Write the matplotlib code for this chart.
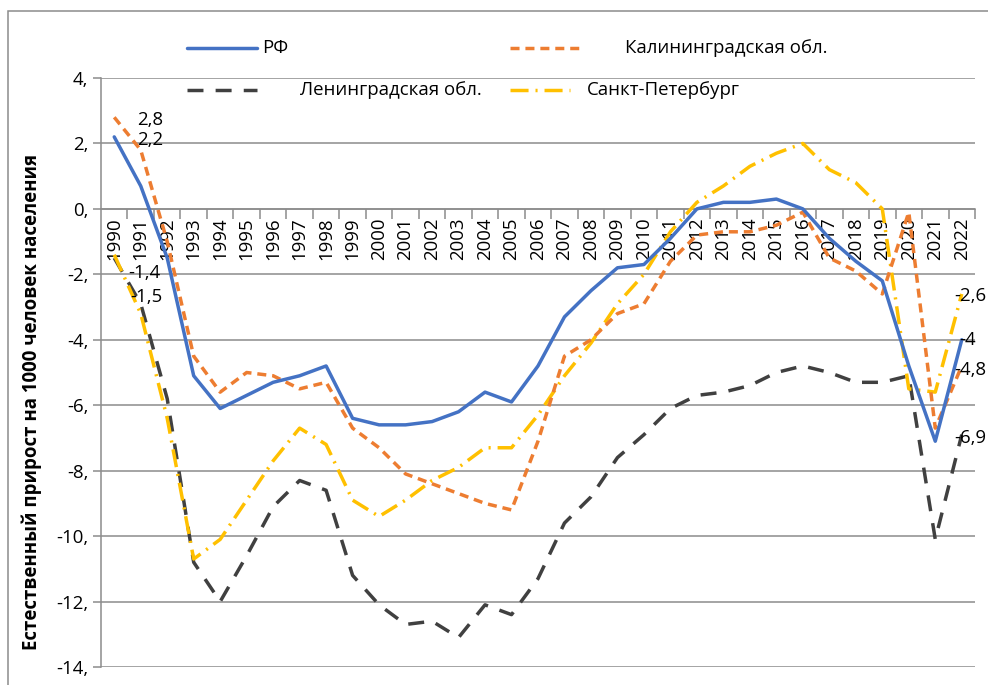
import matplotlib
matplotlib.use("Agg")
import matplotlib.pyplot as plt
from matplotlib.lines import Line2D
from matplotlib.patches import Rectangle
from matplotlib.ticker import FixedLocator, FuncFormatter

plt.rcParams['font.family'] = ['Open Sans', 'DejaVu Sans']

years = [str(y) for y in range(1990, 2023)]

rf = [2.2, 0.7, -1.5, -5.1, -6.1, -5.7, -5.3, -5.1, -4.8, -6.4, -6.6, -6.6, -6.5,
      -6.2, -5.6, -5.9, -4.8, -3.3, -2.5, -1.8, -1.7, -0.9, 0.0, 0.2, 0.2, 0.3,
      0.0, -0.9, -1.6, -2.2, -4.8, -7.1, -4.0]
kaliningrad = [2.8, 1.8, -1.0, -4.5, -5.6, -5.0, -5.1, -5.5, -5.3, -6.7, -7.3, -8.1,
               -8.4, -8.7, -9.0, -9.2, -7.1, -4.5, -4.0, -3.2, -2.9, -1.6, -0.8,
               -0.7, -0.7, -0.5, -0.1, -1.5, -1.9, -2.6, -0.1, -6.7, -4.8]
leningrad = [-1.5, -2.9, -5.8, -10.8, -12.0, -10.6, -9.1, -8.3, -8.6, -11.2, -12.1,
             -12.7, -12.6, -13.1, -12.1, -12.4, -11.3, -9.6, -8.8, -7.6, -6.9, -6.1,
             -5.7, -5.6, -5.4, -5.0, -4.8, -5.0, -5.3, -5.3, -5.1, -10.1, -6.9]
spb = [-1.4, -3.2, -6.4, -10.7, -10.1, -8.9, -7.7, -6.7, -7.2, -8.9, -9.4, -8.9,
       -8.3, -7.9, -7.3, -7.3, -6.3, -5.1, -4.1, -2.9, -2.0, -0.7, 0.2, 0.7, 1.3,
       1.7, 2.0, 1.2, 0.8, 0.0, -5.5, -5.6, -2.6]

series_names = ['РФ', 'Калининградская обл.', 'Ленинградская обл.', 'Санкт-Петербург']
ylabel = 'Естественный прирост на 1000 человек населения'
yticks = [4, 2, 0, -2, -4, -6, -8, -10, -12, -14]

W, H = 988, 685
fig = plt.figure(figsize=(W / 100, H / 100), dpi=100)
ax = fig.add_axes([101 / W, 1 - 667 / H, (975 - 101) / W, (667 - 78) / H])

x = list(range(len(years)))
FS = 13.4

LW = 2.5
styles = {
    'rf': dict(color='#4472C4', lw=LW, ls='-', solid_capstyle='round'),
    'kal': dict(color='#ED7D31', lw=LW, ls=(0, (2.6, 1.7)), dash_capstyle='butt'),
    'len': dict(color='#404040', lw=LW, ls=(0, (4.6, 3.5)), dash_capstyle='butt'),
    'spb': dict(color='#FFC000', lw=LW, ls=(0, (5.2, 2.0, 0.6, 2.0)), dash_capstyle='butt'),
}

ax.plot(x, rf, **styles['rf'], zorder=5)
ax.plot(x, kaliningrad, **styles['kal'], zorder=4)
ax.plot(x, leningrad, **styles['len'], zorder=3)
ax.plot(x, spb, **styles['spb'], zorder=3)

ax.set_xlim(-0.5, len(years) - 0.5)
ax.set_ylim(-14, 4)

grid_c = '#8C8C8C'
ax.set_yticks(yticks)
ax.yaxis.set_major_formatter(FuncFormatter(lambda v, p: f"{int(round(v))},"))
ax.yaxis.grid(True, color=grid_c, lw=1.1)
ax.set_axisbelow(True)
ax.tick_params(axis='y', length=6, width=1.1, color=grid_c, pad=3, labelsize=FS)

for s in ['top', 'right']:
    ax.spines[s].set_visible(False)
ax.spines['left'].set_color(grid_c)
ax.spines['left'].set_linewidth(1.1)
ax.spines['bottom'].set_position(('data', 0))
ax.spines['bottom'].set_color(grid_c)
ax.spines['bottom'].set_linewidth(1.1)

ax.set_xticks(x)
ax.set_xticklabels(years, rotation=90, fontsize=FS, va='top')
ax.xaxis.set_minor_locator(FixedLocator([i + 0.5 for i in x[:-1]] + [len(years) - 0.5]))
ax.tick_params(axis='x', which='major', length=0, pad=6)
ax.tick_params(axis='x', which='minor', length=7, width=1.1, color=grid_c)

ax.set_ylabel(ylabel, fontsize=FS, fontweight='bold')
ax.yaxis.set_label_coords(-0.067, 0.45)

# data labels
def lab(i, val, dx, dy):
    txt = f"{val:g}".replace('.', ',')
    ax.annotate(txt, xy=(i, val), xytext=(dx, dy), textcoords='offset pixels',
                ha='left', va='center', fontsize=FS, zorder=6)

lab(0, kaliningrad[0], 23, -3)
lab(0, rf[0], 23, -3)
lab(0, spb[0], 14, -18)
lab(0, leningrad[0], 16, -39)
n = len(years) - 1
lab(n, spb[n], -8, -2)
lab(n, rf[n], -3, 0)
lab(n, kaliningrad[n], -8, -4)
lab(n, leningrad[n], -8, -3)

# legend (manual layout)
def leg(x0, x1, y, style, text, tx):
    fig.add_artist(Line2D([x0 / W, x1 / W], [1 - y / H, 1 - y / H],
                          transform=fig.transFigure, **style))
    fig.text(tx / W, 1 - y / H, text, ha='left', va='center', fontsize=FS)

leg(187, 257, 48, styles['rf'], series_names[0], 262)
leg(510, 580, 48, styles['kal'], series_names[1], 625)
leg(187, 257, 90, styles['len'], series_names[2], 300)
leg(510, 570, 90, styles['spb'], series_names[3], 587)

# chart border
fig.add_artist(Rectangle((8 / W, -0.1), 1.2, 1 - 11 / H + 0.1, transform=fig.transFigure,
                         fill=False, edgecolor='#8C8C8C', lw=1.1))

fig.savefig('out.png', dpi=100)
